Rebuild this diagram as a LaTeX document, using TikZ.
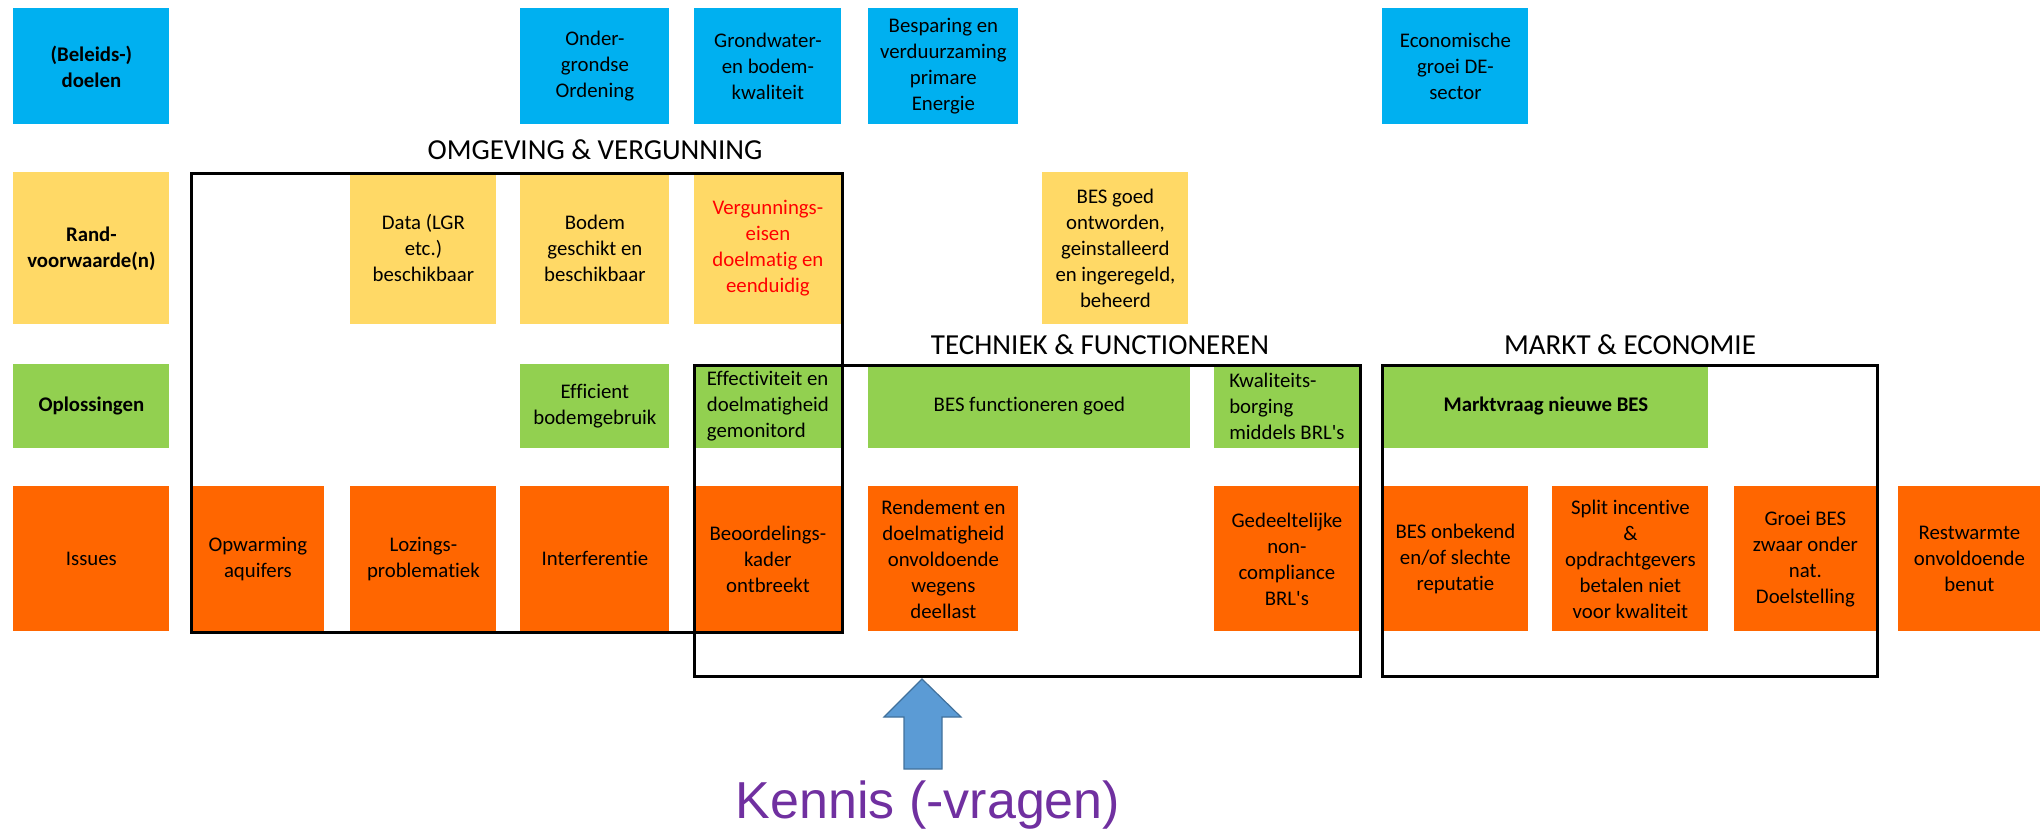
\documentclass[tikz,border=0pt]{standalone}
\usepackage{fontspec}
\setmainfont[Ligatures={TeX,NoCommon}]{Carlito}
\newfontfamily\arialfont{Liberation Sans}
\definecolor{doelblauw}{HTML}{00B0F0}
\definecolor{randgeel}{HTML}{FFD966}
\definecolor{oplgroen}{HTML}{92D050}
\definecolor{issueoranje}{HTML}{FF6600}
\definecolor{pijlblauw}{HTML}{5B9BD5}
\definecolor{pijlrand}{HTML}{41719C}
\definecolor{kennispaars}{HTML}{7030A0}
\begin{document}
\begin{tikzpicture}[x=0.5pt,y=-0.5pt,
 cel/.style={anchor=north west,inner sep=0pt,align=center,font=\fontsize{10.4}{13}\selectfont},
 vet/.style={font=\fontsize{10.4}{13}\selectfont\bfseries},
 doel/.style={cel,fill=doelblauw,minimum height=58pt},
 rand/.style={cel,fill=randgeel,minimum height=76pt},
 opl/.style={cel,fill=oplgroen,minimum height=42pt},
 issue/.style={cel,fill=issueoranje,minimum height=72.5pt},
 kader/.style={draw=black,line width=1.5pt},
 titel/.style={anchor=base,font=\fontsize{14.5}{17}\selectfont}]
 \useasboundingbox (0,0) rectangle (2043,830);
 \node[doel,vet,minimum width=78pt] (dBeleid) at (13,8) {(Beleids-)\\doelen};
 \node[doel,minimum width=74.5pt] (dOrdening) at (520,8) {Onder-\\grondse\\Ordening};
 \node[doel,minimum width=73.5pt] (dGrondwater) at (694,8) {Grondwater-\\en bodem-\\kwaliteit};
 \node[doel,minimum width=75pt] (dBesparing) at (868,8) {Besparing en\\verduurzaming\\primare\\Energie};
 \node[doel,minimum width=73pt] (dGroei) at (1382,8) {Economische\\groei DE-\\sector};
 \node[rand,vet,minimum width=78pt] (rLabel) at (13,172) {Rand-\\voorwaarde(n)};
 \node[rand,minimum width=73pt] (rData) at (350,172) {Data (LGR\\etc.)\\beschikbaar};
 \node[rand,minimum width=74.5pt] (rBodem) at (520,172) {Bodem\\geschikt en\\beschikbaar};
 \node[rand,text=red,minimum width=73.5pt] (rEisen) at (694,172) {Vergunnings-\\eisen\\doelmatig en\\eenduidig};
 \node[rand,minimum width=73pt] (rBes) at (1042,172) {BES goed\\ontworden,\\geinstalleerd\\en ingeregeld,\\beheerd};
 \node[opl,vet,minimum width=78pt] (oLabel) at (13,364) {Oplossingen};
 \node[opl,minimum width=74.5pt] (oBodem) at (520,364) {Efficient\\bodemgebruik};
 \node[opl,align=left,minimum width=73.5pt] (oMonitor) at (694,364) {Effectiviteit en\\doelmatigheid\\gemonitord};
 \node[opl,minimum width=161pt] (oBes) at (868,364) {BES functioneren goed};
 \node[opl,align=left,minimum width=72.5pt] (oBorging) at (1214,364) {Kwaliteits-\\borging\\middels BRL\textquotesingle s};
 \node[opl,vet,minimum width=162.5pt] (oMarkt) at (1383,364) {Marktvraag nieuwe BES};
 \node[issue,minimum width=78pt] (iLabel) at (13,486) {Issues};
 \node[issue,minimum width=66.5pt] (iOpwarming) at (191,486) {Opwarming\\aquifers};
 \node[issue,minimum width=73pt] (iLozing) at (350,486) {Lozings-\\problematiek};
 \node[issue,minimum width=74.5pt] (iInterf) at (520,486) {Interferentie};
 \node[issue,minimum width=73.5pt] (iKader) at (694,486) {Beoordelings-\\kader\\ontbreekt};
 \node[issue,minimum width=75pt] (iRendement) at (868,486) {Rendement en\\doelmatigheid\\onvoldoende\\wegens\\deellast};
 \node[issue,minimum width=72.5pt] (iBrl) at (1214,486) {Gedeeltelijke\\non-\\compliance\\BRL\textquotesingle s};
 \node[issue,minimum width=73pt] (iOnbekend) at (1382,486) {BES onbekend\\en/of slechte\\reputatie};
 \node[issue,minimum width=78pt] (iSplit) at (1552,486) {Split incentive\\\&\\opdrachtgevers\\betalen niet\\voor kwaliteit};
 \node[issue,minimum width=71pt] (iGroei) at (1734,486) {Groei BES\\zwaar onder\\nat.\\Doelstelling};
 \node[issue,minimum width=71pt] (iRestwarmte) at (1898,486) {Restwarmte\\onvoldoende\\benut};
 \draw[kader] (191,173) rectangle (842,632);
 \draw[kader] (694,365) rectangle (1360,676);
 \draw[kader] (1382,365) rectangle (1877,676);
 \node[titel] (tOmgeving) at (595,159) {OMGEVING \& VERGUNNING};
 \node[titel] (tTechniek) at (1100,354) {TECHNIEK \& FUNCTIONEREN};
 \node[titel] (tMarkt) at (1630,354) {MARKT \& ECONOMIE};
 \draw[fill=pijlblauw,draw=pijlrand,line width=0.6pt] (922,679) -- (961,717) -- (942,717) -- (942,769) -- (904,769) -- (904,717) -- (884,717) -- cycle;
 \node[anchor=base,text=kennispaars,font=\arialfont\fontsize{26}{30}\selectfont] (kennis) at (928,818) {Kennis (-vragen)};
\end{tikzpicture}
\end{document}
